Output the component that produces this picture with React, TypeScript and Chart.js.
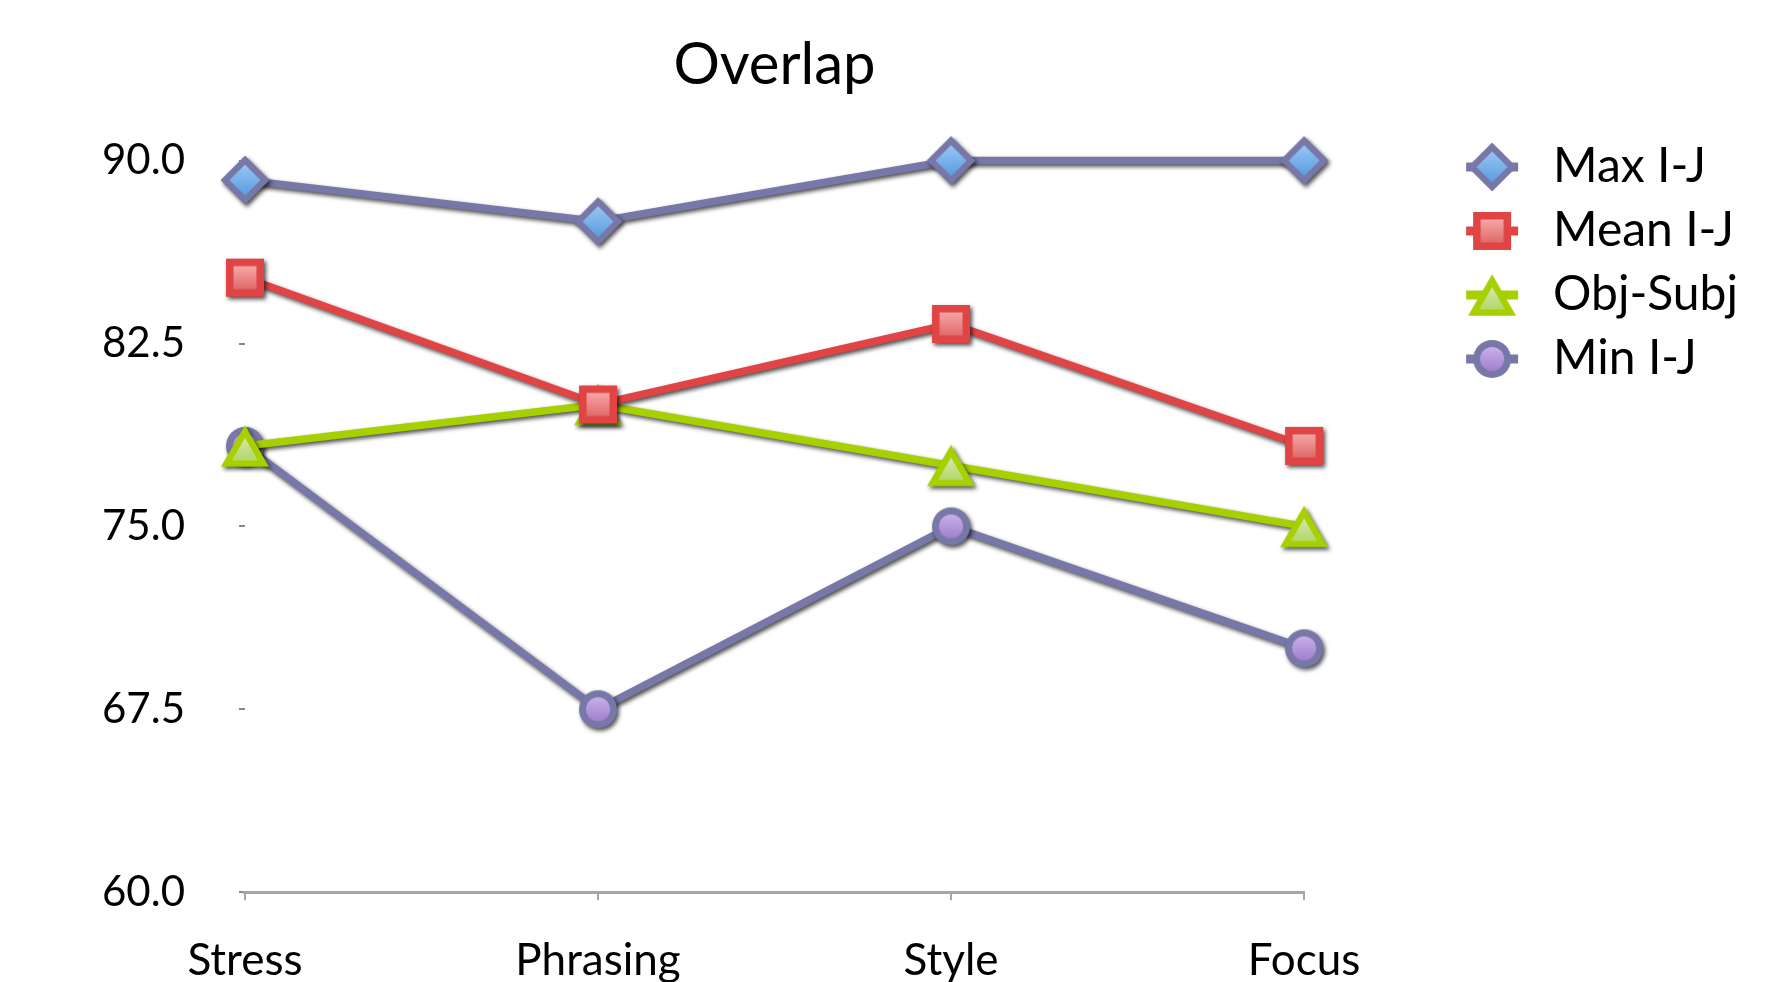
import React, { useEffect, useRef } from "react";
import { Chart, registerables } from "chart.js";

Chart.register(...registerables);

const categories = ["Stress", "Phrasing", "Style", "Focus"];
const seriesLabels = ["Max I-J", "Mean I-J", "Obj-Subj", "Min I-J"];
const maxIJ = [89.2, 87.5, 90.0, 90.0];
const meanIJ = [85.2, 80.0, 83.3, 78.3];
const objSubj = [78.3, 80.0, 77.5, 75.0];
const minIJ = [78.3, 67.5, 75.0, 70.0];
const yMin = 60;
const yMax = 90;
const yStep = 7.5;
const titleText = "Overlap";

const FONT = "Lato, 'Open Sans', sans-serif";

const SLATE = "#7777a8";
const RED = "#e04444";
const GREEN = "#a6d000";

type Kind = "diamond" | "square" | "triangle" | "circle";

function shapePath(ctx: CanvasRenderingContext2D, kind: Kind, cx: number, cy: number, s: number) {
  ctx.beginPath();
  if (kind === "diamond") {
    ctx.moveTo(cx, cy - s);
    ctx.lineTo(cx + s, cy);
    ctx.lineTo(cx, cy + s);
    ctx.lineTo(cx - s, cy);
    ctx.closePath();
  } else if (kind === "square") {
    ctx.rect(cx - s, cy - s, 2 * s, 2 * s);
  } else if (kind === "circle") {
    ctx.arc(cx, cy, s, 0, Math.PI * 2);
  } else {
    const h = s * Math.sqrt(3);
    const cyc = cy + h / 6;
    ctx.moveTo(cx, cyc - (2 * h) / 3);
    ctx.lineTo(cx + s, cyc + h / 3);
    ctx.lineTo(cx - s, cyc + h / 3);
    ctx.closePath();
  }
}

function makeIcon(kind: Kind, border: string, top: string, bottom: string, withLine: boolean): HTMLCanvasElement {
  const W = 56;
  const H = 56;
  const c = document.createElement("canvas");
  c.width = W;
  c.height = H;
  const ctx = c.getContext("2d") as CanvasRenderingContext2D;
  const cx = W / 2;
  const cy = H / 2;
  if (withLine) {
    ctx.fillStyle = border;
    ctx.fillRect(2, cy - 4.5, W - 4, 9);
  }
  let outer = 0;
  let inner = 0;
  if (kind === "diamond") { outer = 24.5; inner = 15.5; }
  if (kind === "square") { outer = 19; inner = 11.5; }
  if (kind === "circle") { outer = 19; inner = 12; }
  if (kind === "triangle") { outer = 24; inner = 13; }
  ctx.fillStyle = border;
  shapePath(ctx, kind, cx, cy, outer);
  ctx.fill();
  const g = ctx.createLinearGradient(0, cy - inner, 0, cy + inner);
  g.addColorStop(0, top);
  g.addColorStop(1, bottom);
  ctx.fillStyle = g;
  if (kind === "triangle") {
    const hOuter = outer * Math.sqrt(3);
    const centroid = cy + hOuter / 6;
    const hInner = inner * Math.sqrt(3);
    shapePath(ctx, kind, cx, centroid - hInner / 6, inner);
  } else {
    shapePath(ctx, kind, cx, cy, inner);
  }
  ctx.fill();
  return c;
}

const shadowPlugin = {
  id: "lineShadow",
  beforeDatasetDraw(chart: any) {
    const ctx = chart.ctx;
    ctx.save();
    ctx.shadowColor = "rgba(0,0,0,0.7)";
    ctx.shadowBlur = 4;
    ctx.shadowOffsetX = 2;
    ctx.shadowOffsetY = 2.5;
  },
  afterDatasetDraw(chart: any) {
    chart.ctx.restore();
  },
};

export default function App() {
  const ref = useRef<HTMLCanvasElement | null>(null);

  useEffect(() => {
    if (!ref.current) return;
    const pts = [
      makeIcon("diamond", SLATE, "#98c6f4", "#5a9ce0", false),
      makeIcon("square", RED, "#f6a6a6", "#e06a6a", false),
      makeIcon("triangle", GREEN, "#dcecb8", "#b6d870", false),
      makeIcon("circle", SLATE, "#c8b0ec", "#a080cc", false),
    ];
    const legendIcons = [
      makeIcon("diamond", SLATE, "#98c6f4", "#5a9ce0", true),
      makeIcon("square", RED, "#f6a6a6", "#e06a6a", true),
      makeIcon("triangle", GREEN, "#dcecb8", "#b6d870", true),
      makeIcon("circle", SLATE, "#c8b0ec", "#a080cc", true),
    ];
    const values = [maxIJ, meanIJ, objSubj, minIJ];
    const colors = [SLATE, RED, GREEN, SLATE];

    const chart = new Chart(ref.current, {
      type: "line",
      data: {
        labels: categories,
        datasets: values.map((v, i) => ({
          label: seriesLabels[i],
          data: v,
          borderColor: colors[i],
          backgroundColor: colors[i],
          borderWidth: 7.5,
          pointStyle: pts[i] as any,
          pointRadius: 20,
          tension: 0,
          fill: false,
          clip: false as any,
          yAxisID: "y",
        })),
      },
      options: {
        responsive: false,
        animation: false,
        events: [],
        layout: { padding: { left: 48, right: 43, top: 20, bottom: 19 } },
        plugins: {
          title: {
            display: true,
            text: titleText,
            fullSize: false,
            color: "#000",
            font: { family: FONT, size: 58, weight: "normal" as any },
            padding: { top: 10, bottom: 61 },
          },
          legend: {
            position: "right",
            align: "start",
            maxWidth: 600,
            title: { display: true, text: "", padding: { top: 0, bottom: 95 }, font: { size: 10 } },
            labels: {
              usePointStyle: true,
              pointStyleWidth: 74,
              boxHeight: 48,
              padding: 16,
              color: "#000",
              font: { family: FONT, size: 48 },
              generateLabels: (ch: any) =>
                ch.data.datasets.map((ds: any, i: number) => ({
                  text: ds.label,
                  pointStyle: legendIcons[i],
                  fillStyle: "rgba(0,0,0,0)",
                  strokeStyle: "rgba(0,0,0,0)",
                  lineWidth: 0,
                  hidden: false,
                  datasetIndex: i,
                  fontColor: "#000",
                })),
            },
          } as any,
          tooltip: { enabled: false },
        },
        scales: {
          x: {
            offset: false,
            grid: { display: true, drawOnChartArea: false, drawTicks: true, tickLength: 8, color: "#a6a6a6", lineWidth: 2 },
            border: { display: true, color: "#a6a6a6", width: 3 },
            ticks: { color: "#000", font: { family: FONT, size: 44 }, padding: 34, maxRotation: 0, autoSkip: false },
          },
          y: {
            min: yMin,
            max: yMax,
            grid: { display: true, drawOnChartArea: false, drawTicks: true, tickLength: 6, color: "#888", lineWidth: 2 },
            border: { display: false },
            ticks: {
              stepSize: yStep,
              color: "#000",
              font: { family: FONT, size: 42 },
              padding: 54,
              callback: (v: any) => Number(v).toFixed(1),
            },
          },
          y2: {
            position: "right",
            display: true,
            grid: { display: false },
            border: { display: false },
            ticks: { display: false },
            afterFit: (s: any) => {
              s.width = 135;
            },
          },
        },
      },
      plugins: [shadowPlugin],
    });
    return () => chart.destroy();
  }, []);

  return (
    <div style={{ position: "fixed", left: 0, top: 0, width: 1791, height: 982, overflow: "hidden", background: "#fff" }}>
      <canvas ref={ref} width={1791} height={1040} style={{ display: "block" }} />
    </div>
  );
}
